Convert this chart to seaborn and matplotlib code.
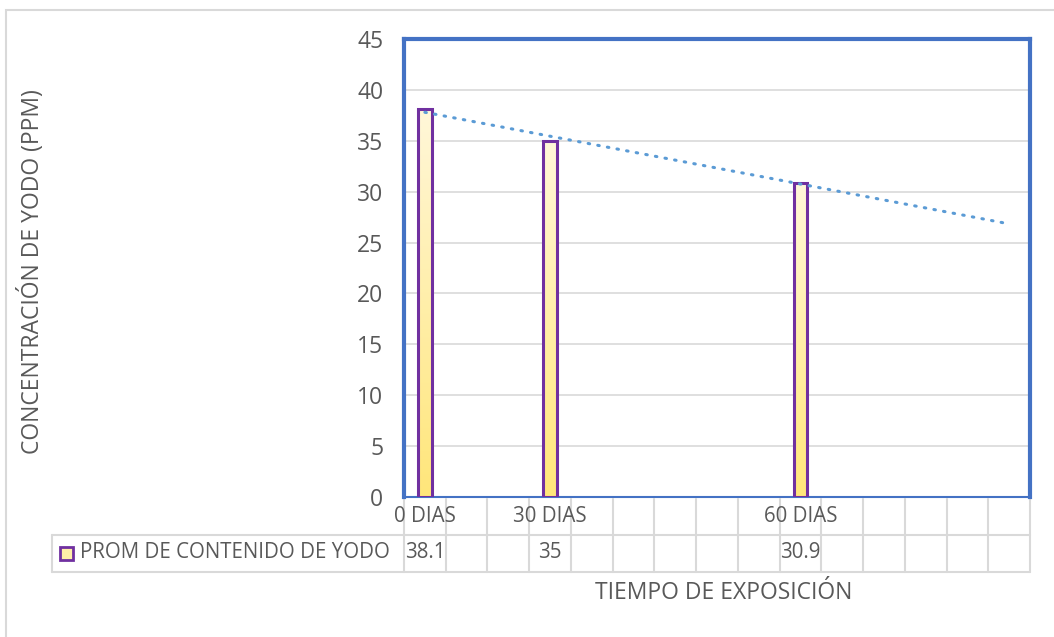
import numpy as np
import matplotlib
matplotlib.use("Agg")
import matplotlib.pyplot as plt
import matplotlib.transforms as mtransforms
from matplotlib.patches import Rectangle
import seaborn as sns

# chart data
slots = list(range(15))            # category slots on the x axis
positions = [0, 3, 9]              # slot of each measurement
labels = ["0 DIAS", "30 DIAS", "60 DIAS"]
values = [38.1, 35, 30.9]
value_text = ["38.1", "35", "30.9"]
series_name = "PROM DE CONTENIDO DE YODO"

sns.set_theme(style="white")
plt.rcParams["font.family"] = ["Open Sans", "DejaVu Sans"]
text_color = "#595959"
grid_color = "#D9D9D9"
edge_color = "#7030A0"
spine_color = "#4472C4"
trend_color = "#5B9BD5"
fs_axis = 16.5
fs_table = 14.8

W, H = 1054, 637
fig = plt.figure(figsize=(W / 100, H / 100), dpi=100)
ax = fig.add_axes([404 / W, 1 - 497 / H, (1030 - 404) / W, (497 - 39) / H])

sns.barplot(x=positions, y=values, order=slots, width=0.33, ax=ax,
            color="#FFEB99", edgecolor=edge_color, linewidth=2.2, zorder=3)

# vertical gradient fill inside the bars
grad = np.linspace(0, 1, 256).reshape(-1, 1)
cmap = matplotlib.colors.LinearSegmentedColormap.from_list("g", ["#FFF7D9", "#FFE67A"])
for p in ax.patches:
    x0, y0 = p.get_x(), p.get_y()
    im = ax.imshow(grad, cmap=cmap, aspect="auto", zorder=3.1,
                   extent=[x0, x0 + p.get_width(), y0, y0 + p.get_height()],
                   origin="upper")
    im.set_clip_path(p)
    p.set_facecolor("none")
    p.set_zorder(3.2)

# linear trend line
coef = np.polyfit(positions, values, 1)
tx = np.array([slots[0], slots[-1]])
ax.plot(tx, np.polyval(coef, tx), color=trend_color, lw=2.2,
        linestyle=(0, (0.5, 2.7)), dash_capstyle="round", zorder=4)

ax.set_xlim(-0.5, 14.5)
ax.set_ylim(0, 45)
ax.set_yticks(range(0, 46, 5))
ax.yaxis.grid(True, color=grid_color, lw=1.2)
ax.set_axisbelow(True)
ax.set_xticks([])
ax.set_xlabel("")
ax.tick_params(axis="y", length=0, pad=15, labelsize=fs_axis, labelcolor=text_color)
for side in ["top", "left", "right"]:
    ax.spines[side].set_color(spine_color)
    ax.spines[side].set_linewidth(3)
ax.spines["bottom"].set_color(spine_color)
ax.spines["bottom"].set_linewidth(1.5)

ax.set_ylabel("")
fig.text(32 / W, 1 - 272 / H, "CONCENTRACIÓN DE YODO (PPM)", rotation=90,
         ha="center", va="center", fontsize=fs_axis, color=text_color)

# data table under the plot
tr = mtransforms.blended_transform_factory(ax.transData, fig.transFigure)
y_top, y_mid, y_bot = 1 - 499 / H, 1 - 535 / H, 1 - 572 / H
for e in np.arange(-0.5, 15, 1):
    ax.plot([e, e], [y_top, y_bot], transform=tr, color=grid_color, lw=1.5,
            clip_on=False)
for yy in [y_mid, y_bot]:
    fig.add_artist(plt.Line2D([52 / W, 1030 / W], [yy, yy], color=grid_color, lw=1.5))
fig.add_artist(plt.Line2D([52 / W, 52 / W], [y_mid, y_bot], color=grid_color, lw=1.5))

row1 = 1 - 517 / H
row2 = 1 - 553 / H
for pos, lab, vt in zip(positions, labels, value_text):
    ax.text(pos, row1, lab, transform=tr, ha="center", va="center",
            fontsize=fs_table, color=text_color)
    ax.text(pos, row2, vt, transform=tr, ha="center", va="center",
            fontsize=fs_table, color=text_color)

# legend key inside the table
fig.add_artist(Rectangle((60 / W, 1 - 560 / H), 13 / W, 13 / H,
                         transform=fig.transFigure, facecolor="#FFEFA8",
                         edgecolor=edge_color, lw=2))
fig.text(80 / W, row2, series_name, ha="left", va="center",
         fontsize=fs_table, color=text_color)

fig.text(724 / W, 1 - 593 / H, "TIEMPO DE EXPOSICIÓN", ha="center", va="center",
         fontsize=fs_axis, color=text_color)

# outer chart frame
fig.add_artist(Rectangle((6 / W, -0.05), 1.1, 1 - 10 / H + 0.05,
                         transform=fig.transFigure, fill=False,
                         edgecolor=grid_color, lw=1.5))

fig.savefig("out.png", dpi=100)
